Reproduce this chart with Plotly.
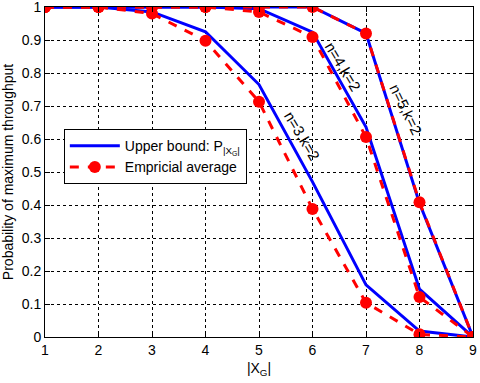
import plotly.graph_objects as go

x_vals = [1, 2, 3, 4, 5, 6, 7, 8, 9]

# upper bound P_|X_G|
ub_n3 = [1.0, 1.0, 0.985, 0.925, 0.765, 0.47, 0.158, 0.018, 0.0]
ub_n4 = [1.0, 1.0, 1.0, 1.0, 0.995, 0.924, 0.636, 0.145, 0.0]
ub_n5 = [1.0, 1.0, 1.0, 1.0, 1.0, 1.0, 0.92, 0.405, 0.0]

# empirical average
emp_n3 = [1.0, 1.0, 0.98, 0.898, 0.713, 0.388, 0.104, 0.008, 0.0]
emp_n4 = [1.0, 1.0, 1.0, 1.0, 0.985, 0.909, 0.606, 0.121, 0.0]
emp_n5 = [1.0, 1.0, 1.0, 1.0, 1.0, 1.0, 0.92, 0.408, 0.0]

curve_labels = ["n=3,k=2", "n=4,k=2", "n=5,k=2"]
label_x = [5.80, 6.57, 7.75]
label_y = [0.61, 0.82, 0.69]
label_angle = [59, 59, 64]

fig = go.Figure()

for i, ub in enumerate([ub_n3, ub_n4, ub_n5]):
    fig.add_trace(go.Scatter(
        x=x_vals, y=ub, mode='lines',
        name='Upper bound: P<sub>|X<sub>G</sub>|</sub>',
        line=dict(color='#0000ff', width=3),
        showlegend=(i == 0), legendrank=1
    ))

for i, emp in enumerate([emp_n3, emp_n4, emp_n5]):
    fig.add_trace(go.Scatter(
        x=x_vals, y=emp, mode='lines+markers',
        name='Empricial average',
        line=dict(color='#ff0000', width=3, dash='dash'),
        marker=dict(color='#ff0000', size=12),
        showlegend=(i == 0), legendrank=2
    ))

for lbl, lx, ly, ang in zip(curve_labels, label_x, label_y, label_angle):
    fig.add_annotation(x=lx, y=ly, text=lbl, showarrow=False, textangle=ang,
                       font=dict(size=15, color='black'))

fig.update_layout(
    width=480, height=383,
    margin=dict(l=45, r=7, t=7, b=46),
    plot_bgcolor='white', paper_bgcolor='white',
    font=dict(family='Liberation Sans, Arial', size=14, color='black'),
    legend=dict(
        x=0.044, y=0.63, xanchor='left', yanchor='top',
        bgcolor='white', bordercolor='black', borderwidth=1,
        font=dict(size=14), tracegroupgap=2, itemwidth=50
    ),
    xaxis=dict(
        range=[1, 9], dtick=1, showgrid=True, gridcolor='black', griddash='dot',
        gridwidth=1, ticks='inside', ticklen=5, tickcolor='black',
        showline=True, linecolor='black', mirror='ticks', zeroline=False,
        automargin=False, ticklabeloverflow='allow',
        title=dict(text='|X<sub>G</sub>|', font=dict(size=14), standoff=6)
    ),
    yaxis=dict(
        range=[0, 1], dtick=0.1, showgrid=True, gridcolor='black', griddash='dot',
        gridwidth=1, ticks='inside', ticklen=5, tickcolor='black',
        showline=True, linecolor='black', mirror='ticks', zeroline=False,
        tickformat='.1~f', automargin=False, ticklabeloverflow='allow',
        title=dict(text='Probability of maximum throughput', font=dict(size=14), standoff=6)
    ),
)

fig.write_html("out.html", config={'displayModeBar': False},
               post_script="document.body.style.margin='0';")
